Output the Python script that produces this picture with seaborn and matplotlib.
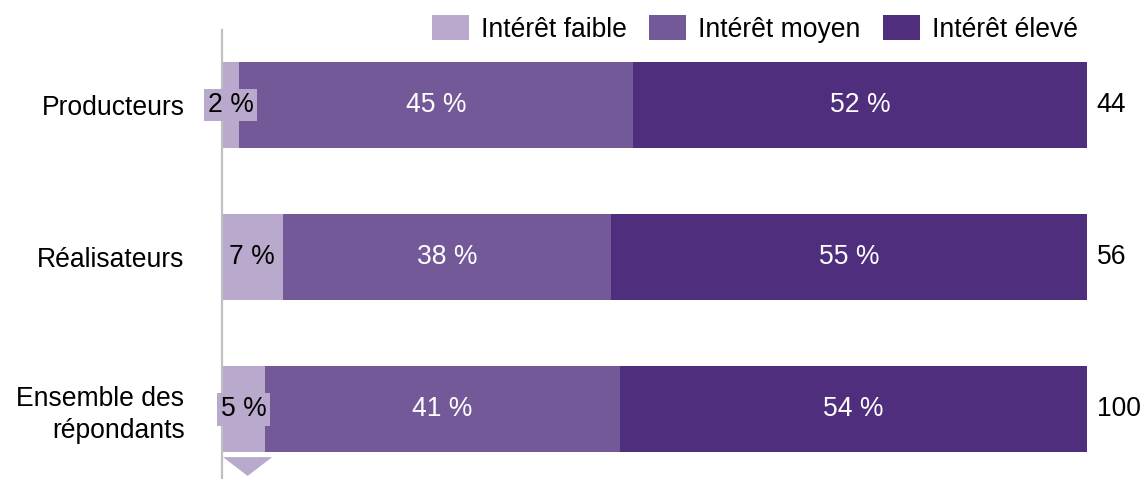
import matplotlib
matplotlib.use("Agg")
import matplotlib.pyplot as plt
from matplotlib.patches import Polygon, Patch
import seaborn as sns
import pandas as pd
import numpy as np

# Survey results: share of respondents by level of interest
categories = ["Producteurs", "Réalisateurs", "Ensemble des\nrépondants"]
faible = [2, 7, 5]
moyen = [45, 38, 41]
eleve = [52, 55, 54]
effectifs = [44, 56, 100]
series_names = ["Intérêt faible", "Intérêt moyen", "Intérêt élevé"]

colors = ["#b9a9cd", "#735998", "#502e7e"]
text_colors = ["black", "white", "white"]

sns.set_theme(style="white")
plt.rcParams["font.family"] = ["Liberation Sans", "DejaVu Sans"]
plt.rcParams["text.color"] = "black"
FS = 19.1

shares = np.array([faible, moyen, eleve], dtype=float)
totals = shares.sum(axis=0)
norm = shares / totals * 100          # each bar spans the full width
cum = np.cumsum(norm, axis=0)
starts = cum - norm

fig = plt.figure(figsize=(11.45, 4.79), dpi=100)
ax = fig.add_axes([222 / 1145, 0.0, (1087 - 222) / 1145, 1 - 30 / 479])

# stacked bars: draw cumulative ends from the outermost segment inwards
for i in reversed(range(3)):
    df = pd.DataFrame({"cat": categories, "val": cum[i]})
    sns.barplot(data=df, x="val", y="cat", orient="h", order=categories,
                color=colors[i], saturation=1, width=0.566, ax=ax,
                linewidth=0, edgecolor="none")

# value labels in each segment
for i in range(3):
    for j in range(len(categories)):
        xc = starts[i, j] + norm[i, j] / 2
        label = f"{int(shares[i, j])} %"
        if i == 0:
            ax.text(xc, j, label, ha="center", va="center", fontsize=FS,
                    color=text_colors[i],
                    bbox=dict(boxstyle="square,pad=0.13", facecolor=colors[0],
                              edgecolor="none"))
        else:
            ax.text(xc, j, label, ha="center", va="center", fontsize=FS,
                    color=text_colors[i])

# respondent counts to the right of each bar
for j, n in enumerate(effectifs):
    ax.annotate(f"{n}", xy=(100, j), xytext=(7, 0), textcoords="offset points",
                ha="left", va="center", fontsize=FS, color="black",
                annotation_clip=False)

ax.set_xlim(0, 100)
ax.set_ylim(2.46, -0.493)
ax.set_xlabel("")
ax.set_ylabel("")
ax.set_xticks([])
ax.tick_params(axis="y", length=0, pad=27, labelsize=FS, labelcolor="black")
ax.set_yticks(range(len(categories)))
ax.set_yticklabels(categories, ha="right", linespacing=1.3)
for s in ["top", "right", "bottom"]:
    ax.spines[s].set_visible(False)
ax.spines["left"].set_color("#c0c0c0")
ax.spines["left"].set_linewidth(1.6)

# small pointer below the last bar
tri = Polygon([(0.12, 2.316), (5.8, 2.316), (2.96, 2.44)], closed=True,
              facecolor=colors[0], edgecolor="none", clip_on=False)
ax.add_patch(tri)

handles = [Patch(facecolor=c, edgecolor="none") for c in colors]
fig.legend(handles, series_names, loc="center",
           bbox_to_anchor=(755 / 1145, 1 - 29 / 479), ncol=3, frameon=False,
           fontsize=FS, handlelength=1.4, handleheight=1.05,
           handletextpad=0.45, columnspacing=0.85, borderpad=0, borderaxespad=0)

fig.savefig("out.png", dpi=100)
